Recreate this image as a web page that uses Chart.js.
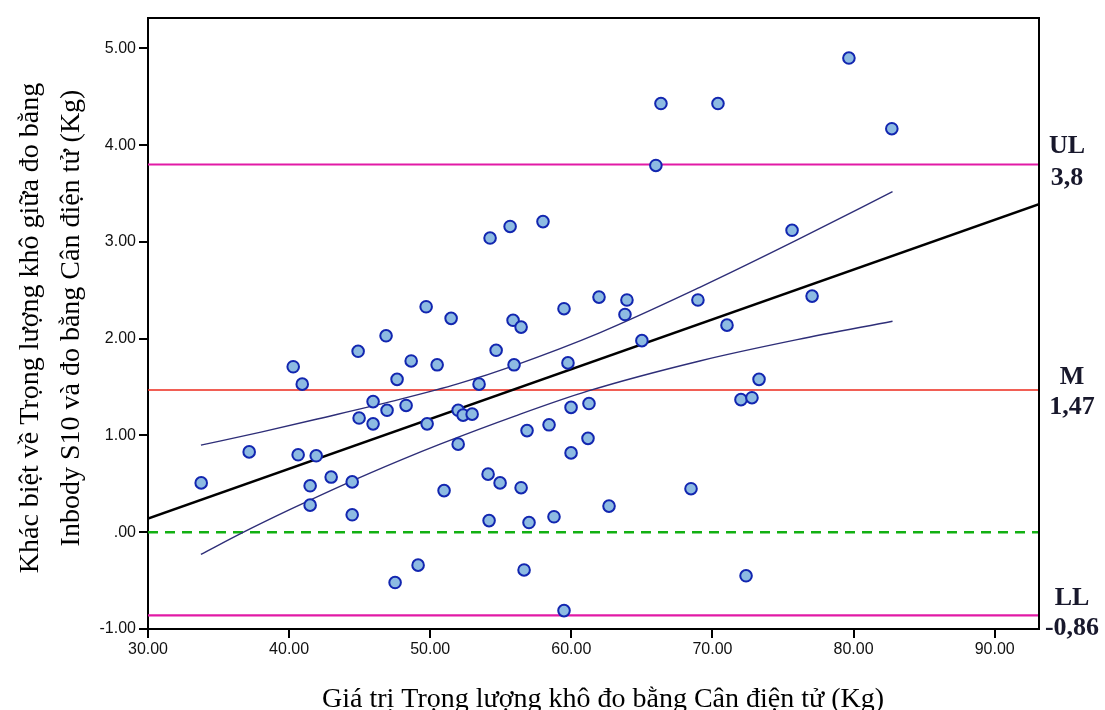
<!DOCTYPE html>
<html><head><meta charset="utf-8">
<script src="https://cdn.jsdelivr.net/npm/chart.js@4.4.1/dist/chart.umd.min.js"></script>
<style>html,body{margin:0;padding:0;background:#fff;overflow:hidden}canvas{display:block}</style>
</head><body>
<canvas id="c" width="1105" height="710"></canvas>
<script>
// ---- data ----
const weightKg = [33.77,37.17,40.29,40.93,40.64,41.92,41.49,41.49,42.98,44.47,44.47,44.89,44.96,45.95,45.95,46.87,46.94,47.65,47.51,48.29,48.65,49.14,49.71,49.78,50.49,50.98,51.48,51.98,51.98,52.33,52.97,53.46,54.10,54.17,54.24,54.67,54.95,55.66,55.87,55.94,56.44,56.44,56.65,56.86,57.00,57.99,58.42,58.77,59.48,59.48,59.76,59.98,59.98,61.18,61.25,61.96,62.67,63.80,63.94,65.00,65.99,66.35,68.48,68.97,70.39,71.03,72.02,72.38,72.80,73.30,75.64,77.06,79.67,82.71];
const diffKg   = [0.51,0.83,1.71,1.53,0.80,0.79,0.48,0.28,0.57,0.52,0.18,1.87,1.18,1.35,1.12,2.03,1.26,1.58,-0.52,1.31,1.77,-0.34,2.33,1.12,1.73,0.43,2.21,0.91,1.26,1.21,1.22,1.53,0.60,0.12,3.04,1.88,0.51,3.16,2.19,1.73,2.12,0.46,-0.39,1.05,0.10,3.21,1.11,0.16,2.31,-0.81,1.75,0.82,1.29,0.97,1.33,2.43,0.27,2.25,2.40,1.98,3.79,4.43,0.45,2.40,4.43,2.14,1.37,-0.45,1.39,1.58,3.12,2.44,4.90,4.17];
const regX = [30, 93.14];
const regY = [0.14, 3.39];
const upperX = [33.75,38.0,42.0,47.9,52.0,56.0,62.0,69.1,76.0,82.76];
const upperY = [0.90,1.035,1.17,1.375,1.535,1.725,2.06,2.53,3.02,3.52];
const lowerX = [33.75,36.7,40.0,44.0,47.9,50.7,56.0,61.2,69.1,76.0,82.76];
const lowerY = [-0.23,-0.005,0.23,0.50,0.745,0.91,1.20,1.46,1.77,1.99,2.18];
const limitNames  = ['UL','M','LL'];
const limitValues = [3.8, 1.47, -0.86];
const limitTexts  = ['3,8','1,47','-0,86'];
const zeroValue = 0;
const xTicks = [30,40,50,60,70,80,90];
const yTicks = [-1,0,1,2,3,4,5];
const xRange = [30, 93.14];
const yRange = [-1, 5.314];
const xTitle = 'Giá trị Trọng lượng khô đo bằng Cân điện tử (Kg)';
const yTitle = ['Khác biệt về Trọng lượng khô giữa đo bằng', 'Inbody S10 và đo bằng Cân điện tử (Kg)'];

const pts = (xs, ys) => xs.map((x,i)=>({x, y: ys[i]}));
const hline = v => [{x:xRange[0], y:v},{x:xRange[1], y:v}];
const limitColors = ['#e21aa6','#ec2a1c','#e21aa6'];

const datasets = [
  {type:'scatter', data: pts(weightKg, diffKg), pointRadius:5.8, pointHoverRadius:5.8,
   pointBackgroundColor:'#8dbbe2', pointBorderColor:'#1226b0', pointBorderWidth:2, order:0},
  {type:'line', data: pts(regX, regY), borderColor:'#000', borderWidth:2.5, pointRadius:0, order:1},
  {type:'line', data: pts(upperX, upperY), borderColor:'#2e2e78', borderWidth:1.4, pointRadius:0, cubicInterpolationMode:'monotone', order:2},
  {type:'line', data: pts(lowerX, lowerY), borderColor:'#2e2e78', borderWidth:1.4, pointRadius:0, cubicInterpolationMode:'monotone', order:2},
  {type:'line', data: hline(zeroValue), borderColor:'#12b012', borderWidth:2.6, borderDash:[10,7], pointRadius:0, order:3},
];
limitValues.forEach((v,i)=>datasets.push({type:'line', data: hline(v), borderColor:limitColors[i], borderWidth: i===1?1.6:2.2, pointRadius:0, order:3}));

const decor = {
  id:'decor',
  afterDraw(chart){
    const {ctx, chartArea:a} = chart;
    ctx.save();
    ctx.strokeStyle = '#000'; ctx.lineWidth = 2;
    ctx.beginPath();
    ctx.moveTo(a.left, a.top); ctx.lineTo(a.right, a.top); ctx.lineTo(a.right, a.bottom);
    ctx.stroke();
    // right-side limit labels
    ctx.fillStyle = '#18182c';
    ctx.font = 'bold 26px "Liberation Serif"';
    ctx.textAlign = 'center'; ctx.textBaseline = 'alphabetic';
    const nameBase = [153, 384, 605];
    const valBase = [185, 414, 635];
    const cx = [1067, 1072, 1072];
    limitNames.forEach((n,i)=>{
      ctx.fillText(n, cx[i], nameBase[i]);
      ctx.fillText(limitTexts[i], cx[i], valBase[i]);
    });
    // axis titles
    ctx.fillStyle = '#000';
    ctx.font = '28px "Liberation Serif"';
    ctx.fillText(xTitle, 603, 707);
    ctx.save();
    ctx.translate(38, 328); ctx.rotate(-Math.PI/2);
    ctx.fillText(yTitle[0], 0, 0);
    ctx.restore();
    ctx.save();
    ctx.translate(79, 318); ctx.rotate(-Math.PI/2);
    ctx.fillText(yTitle[1], 0, 0);
    ctx.restore();
    ctx.restore();
  }
};

new Chart(document.getElementById('c'), {
  data: {datasets},
  options: {
    responsive:false, animation:false, devicePixelRatio:1,
    layout:{padding:{left:0, right:66, top:18, bottom:0}},
    plugins:{legend:{display:false}, tooltip:{enabled:false}},
    scales:{
      x:{type:'linear', min:xRange[0], max:xRange[1],
         afterBuildTicks: s => { s.ticks = xTicks.map(v=>({value:v})); },
         afterFit: s => { s.height = 81; },
         grid:{drawOnChartArea:false, drawTicks:true, tickLength:9, color:'#000', lineWidth:2},
         border:{display:true, color:'#000', width:2},
         ticks:{padding:2, color:'#111', font:{family:'"Liberation Sans"', size:16}, maxRotation:0,
                callback: v => v.toFixed(2)}},
      y:{type:'linear', min:yRange[0], max:yRange[1],
         afterBuildTicks: s => { s.ticks = yTicks.map(v=>({value:v})); },
         afterFit: s => { s.width = 148; },
         grid:{drawOnChartArea:false, drawTicks:true, tickLength:9, color:'#000', lineWidth:2},
         border:{display:true, color:'#000', width:2},
         ticks:{padding:3, color:'#111', font:{family:'"Liberation Sans"', size:16},
                callback: v => v === 0 ? '.00' : v.toFixed(2)}}
    }
  },
  plugins:[decor]
});
</script>
</body></html>
